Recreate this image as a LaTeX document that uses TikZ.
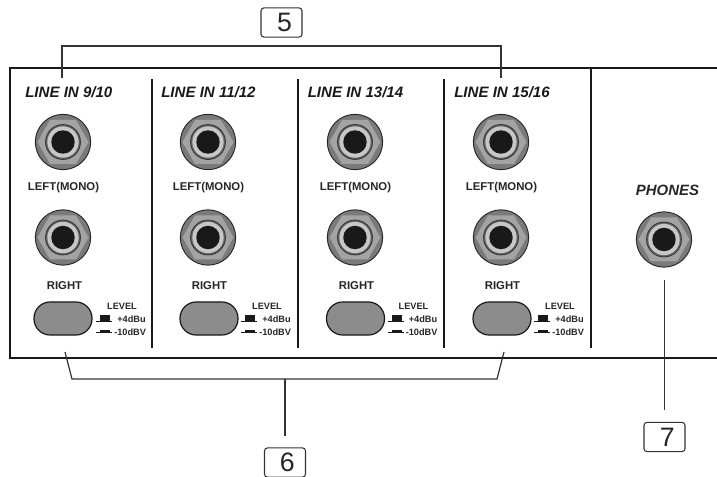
\documentclass[tikz,border=0pt]{standalone}
\usepackage{fontspec}
\setmainfont{Liberation Sans}
\tikzset{
 panel/.style={line width=1.5pt,black!90},
 lead/.style={line width=0.9pt,black!80},
 tagbox/.style={draw=black!80,line width=0.8pt,rounded corners=2.2pt,fill=white,inner sep=0pt,font=\fontsize{20}{20}\selectfont,text=black!85,minimum width=30.75pt,minimum height=21.9pt},
 title/.style={font=\fontsize{11.3}{12}\selectfont\bfseries\itshape,text=black!90,inner sep=0pt},
 lab/.style={font=\fontsize{8.5}{9}\selectfont\bfseries,text=black!85,inner sep=0pt},
 small/.style={font=\fontsize{6.9}{7}\selectfont\bfseries,text=black!85,inner sep=0pt},
 btn/.style={draw=black!90,line width=0.9pt,fill=black!45,rounded corners=12.2pt,minimum width=43.5pt,minimum height=24.8pt,inner sep=0pt},
}
\newcommand{\jackat}[3]{%
 \node[circle,minimum size=41.5pt,inner sep=0pt,draw=black!85,line width=0.7pt,fill=black!52] (#3) at (#1,#2) {};
 \fill[black!36] (#1-25.5,#2) -- (#1-13,#2-22) -- (#1+13,#2-22) -- (#1+25.5,#2) -- (#1+13,#2+22) -- (#1-13,#2+22) -- cycle;
 \node[circle,minimum size=26.2pt,inner sep=0pt,draw=black!80,line width=0.6pt,fill=black!62] at (#1,#2) {};
 \node[circle,minimum size=23.5pt,inner sep=0pt,draw=none,fill=black!22] at (#1,#2) {};
 \node[circle,minimum size=17.6pt,inner sep=0pt,fill=black!90] at (#1,#2) {};
}
\newcommand{\stripat}[6]{%
 \node[title,anchor=west] (t#6) at (#1,92) {LINE IN #2};
 \jackat{#3}{142}{ja#6}
 \node[lab] (l#6) at (#3+0.5,187.5) {LEFT(MONO)};
 \jackat{#3}{237.5}{jb#6}
 \node[lab] (r#6) at (#3+1.5,286) {RIGHT};
 \node[btn] (b#6) at (#4,318.5) {};
 \node[small] (lv#6) at (#5,306) {LEVEL};
 \node[small,anchor=west] (p#6) at (#5-5,319.5) {+4dBu};
 \node[small,anchor=west] (m#6) at (#5-8,332) {-10dBV};
 \draw[line width=0.9pt,black!90] (#5-26,321.5) -- (#5-10,321.5);
 \fill[black!90] (#5-22,321.5) rectangle (#5-12,315.2);
 \draw[line width=0.9pt,black!90] (#5-26,332.8) -- (#5-10,332.8);
 \fill[black!90] (#5-22,332.8) rectangle (#5-12,330.2);
}
\begin{document}
\begin{tikzpicture}[x=0.75pt,y=-0.75pt]
\useasboundingbox (0,0) rectangle (717,477);
% panel
\draw[panel] (717,68) -- (10,68) -- (10,358) -- (717,358);
\foreach \x in {152,298,444}{\draw[line width=1.1pt,black!90] (\x,79) -- (\x,348);}
\draw[line width=1.1pt,black!90] (591,68) -- (591,348);
% strips
\stripat{25}{9/10}{63}{63}{122}{1}
\stripat{161}{11/12}{208}{209}{267}{2}
\stripat{307.5}{13/14}{355}{355.5}{413.5}{3}
\stripat{454}{15/16}{501}{502}{560}{4}
\node[font=\fontsize{11.2}{12}\selectfont\bfseries\itshape,text=black!85,inner sep=0pt] (ph) at (667.5,190.5) {PHONES};
\jackat{664}{239.5}{jp}
% tags
\node[tagbox] (t5) at (281.5,22.5) {\kern4.5pt 5};
\node[tagbox] (t6) at (285,462.5) {\kern3.5pt 6};
\node[tagbox] (t7) at (664.5,437) {\kern4pt 7};
% leaders
\coordinate (a1) at (62,78); \coordinate (a2) at (62,46); \coordinate (a3) at (501,46); \coordinate (a4) at (501,78);
\draw[lead] (a1) -- (a2) -- (a3) -- (a4);
\coordinate (c1) at (65,352); \coordinate (c2) at (72,379); \coordinate (c3) at (497,379); \coordinate (c4) at (504,352); \coordinate (c5) at (285,379);
\draw[lead] (c1) -- (c2) -- (c3) -- (c4);
\draw[lead] (c5) -- (285,436);
\coordinate (d1) at (664.5,280);
\draw[lead] (d1) -- (664.5,410);
\end{tikzpicture}
\end{document}
